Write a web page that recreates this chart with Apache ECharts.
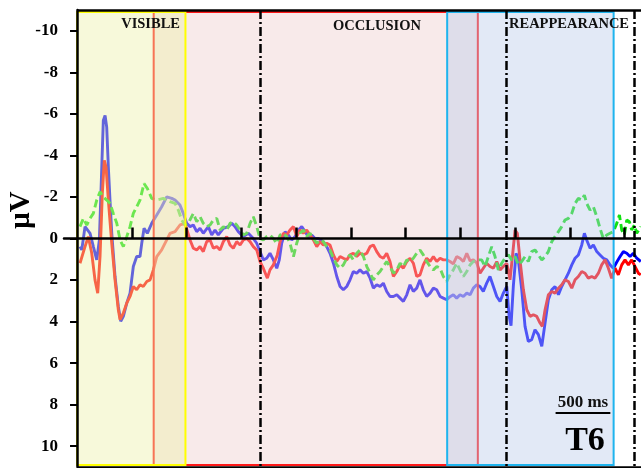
<!DOCTYPE html>
<html><head><meta charset="utf-8">
<script src="https://cdn.jsdelivr.net/npm/echarts@6/dist/echarts.min.js"></script>
<style>html,body{margin:0;padding:0;background:#fff}#c{width:641px;height:468px}</style>
</head><body><div id="c"></div><script>
// ---- data (time in ms, amplitude in µV; negative plotted up) ----
const yTickValues = [-10,-8,-6,-4,-2,0,2,4,6,8,10];
const xTickValues = [500,1000,1500,2000,2500,3000,3500,4000,4500,5000];
const visibleWin = [0, 990];
const occlusionWin = [700, 3660];
const reappearWin = [3380, 4900];
const dashedTimes = [1671, 3922, 5087];
const scaleBarMs = [4370, 4870];
const blue = [[27,0.39],[43,0.55],[73,-0.57],[119,-0.25],[149,0.39],[180,1.03],[204,0.07],[226,-3.44],[240,-5.68],[256,-5.92],[271,-5.36],[286,-3.44],[301,-1.85],[317,-0.26],[347,1.83],[377,3.27],[399,3.99],[423,3.75],[454,3.11],[484,2.63],[514,1.35],[545,0.87],[575,0.87],[591,0.23],[612,-0.49],[642,-0.25],[682,-0.73],[728,-1.13],[773,-1.53],[819,-2.0],[865,-1.93],[895,-1.85],[940,-1.61],[970,-1.21],[1001,-0.73],[1032,-0.57],[1062,-0.65],[1093,-0.33],[1123,-0.49],[1153,-0.25],[1199,-0.57],[1230,-0.17],[1260,-0.41],[1290,-0.17],[1336,-0.49],[1382,-0.57],[1413,-0.73],[1443,-0.57],[1473,-0.33],[1519,-0.09],[1564,-0.25],[1610,0],[1641,0.23],[1671,0.63],[1701,1.03],[1732,0.95],[1762,0.71],[1793,1.03],[1824,1.43],[1847,1.03],[1869,0.23],[1900,-0.33],[1930,-0.17],[1961,0.07],[1991,-0.09],[2021,-0.41],[2052,-0.57],[2082,-0.33],[2112,-0.09],[2143,-0.17],[2173,0],[2204,0],[2249,0.15],[2280,0.39],[2310,0.71],[2341,1.19],[2372,1.83],[2402,2.31],[2432,2.47],[2463,2.31],[2493,1.99],[2523,1.59],[2554,1.67],[2584,1.51],[2615,1.67],[2646,1.59],[2676,1.91],[2706,2.39],[2737,2.23],[2767,2.31],[2797,2.15],[2828,2.55],[2858,2.79],[2889,2.79],[2920,2.71],[2950,2.87],[2980,3.03],[3011,2.71],[3041,2.23],[3071,2.55],[3102,2.39],[3132,1.99],[3162,2.47],[3193,2.79],[3224,2.63],[3254,2.39],[3285,2.47],[3315,2.79],[3345,2.87],[3376,2.95],[3406,2.8],[3436,2.71],[3467,2.87],[3497,2.71],[3528,2.79],[3559,2.63],[3589,2.71],[3619,2.39],[3650,2.23],[3680,2.31],[3710,2.55],[3741,2.15],[3771,1.83],[3802,2.31],[3833,2.79],[3863,3.03],[3893,2.63],[3924,2.31],[3945,3.7],[3963,4.2],[3984,2.31],[4009,0.71],[4030,1.03],[4061,2.47],[4091,4.23],[4121,4.95],[4152,4.87],[4182,4.39],[4213,4.63],[4244,5.19],[4274,4.07],[4304,2.95],[4335,2.47],[4365,2.31],[4396,2.71],[4426,2.31],[4456,1.99],[4487,1.67],[4518,1.27],[4548,0.95],[4578,0.79],[4609,0.31],[4633,-0.25],[4654,0.07],[4685,0.47],[4715,0.31],[4746,0.63],[4776,0.79],[4806,0.95],[4837,1.03],[4867,1.27],[4898,1.43],[4929,1.13],[4959,0.87],[4989,0.63],[5020,0.71],[5050,0.87],[5080,0.71],[5111,0.95],[5148,1.11]];
const red = [[27,1.19],[73,0.39],[103,-0.09],[134,0.7],[164,1.99],[189,2.63],[210,0.87],[231,-2.17],[249,-3.76],[265,-3.44],[286,-1.85],[317,0.23],[347,1.99],[377,3.43],[393,3.91],[423,3.59],[454,3.11],[484,2.79],[514,2.31],[545,2.47],[575,2.23],[605,2.31],[637,2.07],[667,1.99],[697,1.51],[728,0.87],[773,0.55],[819,0.07],[849,-0.25],[895,-0.33],[940,-0.65],[986,-0.73],[1032,0.07],[1062,0.47],[1093,0.55],[1123,0.39],[1153,0.63],[1184,0.15],[1215,0.07],[1245,0.47],[1276,0.39],[1306,0.55],[1336,0.15],[1367,-0.09],[1397,0.31],[1427,0.47],[1458,0.15],[1489,0.31],[1519,0.07],[1550,0],[1580,0.15],[1610,0.39],[1641,0.55],[1671,1.11],[1701,1.43],[1738,1.91],[1762,1.51],[1793,1.27],[1829,0.79],[1854,0.15],[1884,-0.25],[1915,-0.17],[1945,-0.41],[1976,-0.57],[2006,-0.09],[2036,-0.41],[2067,-0.25],[2097,-0.41],[2128,-0.17],[2158,0.07],[2189,0.39],[2219,0.15],[2249,0.31],[2280,0.23],[2310,0.31],[2341,0.79],[2372,1.11],[2402,0.87],[2432,0.95],[2463,1.03],[2493,0.79],[2523,0.71],[2554,0.87],[2584,0.71],[2615,0.79],[2646,0.71],[2676,0.39],[2706,0.31],[2737,0.63],[2767,0.87],[2797,0.95],[2828,0.71],[2858,1.11],[2889,1.83],[2920,1.59],[2950,1.27],[2980,1.43],[3011,1.11],[3041,0.95],[3071,1.19],[3102,1.83],[3132,1.75],[3162,1.27],[3193,0.95],[3224,1.11],[3254,0.87],[3285,1.11],[3315,0.95],[3345,1.03],[3376,1.03],[3406,1.11],[3436,1.22],[3467,0.87],[3497,0.95],[3528,1.11],[3559,0.71],[3589,1.08],[3619,1.03],[3650,1.17],[3680,1.67],[3710,1.43],[3741,1.19],[3771,1.35],[3802,1.43],[3833,1.11],[3863,1.51],[3893,1.35],[3924,1.19],[3954,1.99],[3979,0.71],[4000,-0.41],[4021,-0.25],[4045,1.03],[4076,2.47],[4107,3.43],[4137,3.75],[4167,3.67],[4198,3.75],[4228,4.07],[4249,4.23],[4274,3.43],[4304,2.71],[4335,2.55],[4365,2.63],[4396,2.39],[4426,2.23],[4456,1.99],[4487,2.07],[4518,2.39],[4548,1.99],[4578,1.83],[4609,1.59],[4639,1.67],[4669,1.91],[4700,1.83],[4730,1.91],[4761,1.67],[4791,1.27],[4822,1.03],[4852,1.43],[4882,1.91],[4913,1.43],[4943,1.75],[4974,1.27],[5004,1.03],[5035,1.27],[5065,1.03],[5096,1.35],[5126,1.67],[5148,1.75]];
const green = [[27,-0.57],[58,-0.97],[89,-0.65],[119,-0.97],[149,-1.21],[180,-1.85],[210,-2.25],[240,-2.0],[271,-1.85],[301,-1.69],[331,-1.21],[363,-0.73],[393,0.07],[423,0.39],[454,-0.09],[484,-0.57],[514,-1.21],[545,-1.53],[575,-1.85],[612,-2.65],[642,-2.41],[682,-1.93],[728,-1.85],[788,-1.93],[849,-1.77],[895,-1.69],[925,-1.37],[956,-0.89],[986,-0.65],[1016,-0.73],[1062,-1.21],[1093,-0.81],[1123,-1.05],[1153,-0.73],[1184,-0.57],[1215,-0.65],[1245,-0.89],[1276,-0.97],[1306,-0.41],[1336,-0.57],[1367,-0.41],[1397,-0.73],[1427,-0.81],[1458,-0.65],[1489,-0.41],[1519,-0.17],[1550,-0.25],[1580,-0.73],[1610,-1.05],[1641,-0.57],[1671,0],[1701,0.07],[1732,-0.09],[1762,-0.17],[1793,0],[1824,0.23],[1854,-0.17],[1884,-0.25],[1915,-0.09],[1945,0.23],[1976,0.87],[2006,0.23],[2036,-0.25],[2067,-0.41],[2097,-0.09],[2128,-0.25],[2158,0],[2189,0.23],[2219,0.07],[2249,0.15],[2280,0.39],[2310,0.55],[2341,0.95],[2372,1.27],[2402,1.43],[2432,1.27],[2463,0.95],[2493,0.79],[2523,1.03],[2554,0.71],[2584,0.55],[2615,0.87],[2646,1.35],[2676,1.67],[2706,1.99],[2737,1.75],[2767,1.59],[2797,1.35],[2828,1.11],[2858,1.35],[2889,1.67],[2920,1.51],[2950,1.19],[2980,1.35],[3011,1.03],[3041,1.11],[3071,0.95],[3102,0.71],[3132,0.55],[3162,0.79],[3193,1.11],[3224,1.35],[3254,1.51],[3285,1.35],[3315,1.43],[3345,1.83],[3376,2.07],[3406,1.75],[3436,1.51],[3467,1.19],[3497,1.51],[3528,1.83],[3559,1.59],[3589,1.27],[3619,1.11],[3650,1.03],[3665,1.11],[3695,1.03],[3726,1.35],[3756,0.87],[3787,0.39],[3817,0.87],[3847,1.51],[3878,1.19],[3908,0.95],[3939,0.79],[3969,1.03],[4000,0.87],[4030,1.27],[4061,1.11],[4091,0.87],[4121,1.11],[4152,0.63],[4182,0.55],[4213,0.79],[4244,1.03],[4274,0.87],[4304,0.63],[4335,0.15],[4365,-0.09],[4396,-0.33],[4426,-0.57],[4456,-0.89],[4487,-0.97],[4518,-1.21],[4548,-1.69],[4578,-1.93],[4609,-1.85],[4633,-2.09],[4654,-1.69],[4685,-1.37],[4715,-1.53],[4746,-1.05],[4776,-0.49],[4806,0],[4837,-0.17],[4867,-0.25],[4898,-0.33],[4929,-0.73],[4953,-1.13],[4974,-0.41],[4998,-0.17],[5020,-0.89],[5044,-0.81],[5065,-0.41],[5090,-0.65],[5111,-0.25],[5148,-0.57]];

// ---- chart ----
const SERIF = '"Liberation Serif","Times New Roman",serif';
const Y_TOP = -10.9, Y_BOT = 10.9;
const chart = echarts.init(document.getElementById('c'), null, {renderer: 'canvas'});
function box(win, fill, border) {
  return [{xAxis: win[0], yAxis: Y_TOP, itemStyle: {color: fill, borderColor: border, borderWidth: 2}}, {xAxis: win[1], yAxis: Y_BOT}];
}
const option = {
  animation: false,
  backgroundColor: '#fff',
  grid: {left: 64, right: 0, top: 10, bottom: 1, containLabel: false},
  xAxis: {
    type: 'value', min: -119, max: 5150, z: 10,
    axisLine: {show: true, onZero: true, lineStyle: {color: '#000', width: 2.5}},
    axisTick: {show: true, inside: true, length: 11, customValues: xTickValues, lineStyle: {color: '#000', width: 2.5}},
    axisLabel: {show: false},
    splitLine: {show: false}
  },
  yAxis: {
    type: 'value', inverse: true, min: -11, max: 11, z: 10,
    axisLine: {show: true, onZero: true, lineStyle: {color: '#000', width: 2.5}},
    axisTick: {show: true, inside: false, length: 7, customValues: yTickValues, lineStyle: {color: '#000', width: 2}},
    axisLabel: {show: true, customValues: yTickValues, margin: 6, color: '#000', fontFamily: SERIF, fontWeight: 'bold', fontSize: 17},
    splitLine: {show: false}
  },
  series: [
    {type: 'line', data: blue, symbol: 'none', z: 2, lineStyle: {color: '#0000ff', width: 2.9}},
    {type: 'line', data: red, symbol: 'none', z: 2, lineStyle: {color: '#ff0000', width: 2.9}},
    {type: 'line', data: green, symbol: 'none', z: 2, lineStyle: {color: '#10e010', width: 2.9, type: [8, 4]}},
    {type: 'line', data: [], z: 3, silent: true,
      markArea: {silent: true, z: 5, data: [box(occlusionWin, 'rgba(238,205,205,0.42)', '#ff1a1a')]}},
    {type: 'line', data: [], z: 4, silent: true,
      markArea: {silent: true, z: 6, data: [box(visibleWin, 'rgba(235,240,168,0.42)', '#ffff00'), box(reappearWin, 'rgba(185,203,233,0.42)', '#1fb4ee')]}},
    {type: 'line', data: [], z: 7, silent: true,
      markLine: {silent: true, z: 8, symbol: 'none', label: {show: false},
        data: dashedTimes.map(t => ({xAxis: t, lineStyle: {color: '#000', width: 2.5, type: [9, 3, 2, 3]}})).concat([
          [{coord: [0, -11], lineStyle: {color: '#000', width: 2.5, type: 'solid'}}, {coord: [5150, -11]}],
          [{coord: [0, 11], lineStyle: {color: '#000', width: 2.5, type: 'solid'}}, {coord: [5150, 11]}],
          [{coord: [scaleBarMs[0], 8.4], lineStyle: {color: '#000', width: 2, type: 'solid'}}, {coord: [scaleBarMs[1], 8.4]}]
        ])}}
  ]
};
chart.setOption(option);
const txt = (x, y, s, size, extra) => Object.assign({type: 'text', x: x, y: y, z: 20,
  style: {text: s, font: 'bold ' + size + 'px ' + SERIF, fill: '#111', align: 'center', verticalAlign: 'middle'}}, extra || {});
const sb0 = chart.convertToPixel({gridIndex: 0}, [scaleBarMs[0], 8.4]);
const sb1 = chart.convertToPixel({gridIndex: 0}, [scaleBarMs[1], 8.4]);
chart.setOption({graphic: [
  txt(180, 24, 'VISIBLE', 14.5, {style: {text: 'VISIBLE', font: 'bold 14.5px ' + SERIF, fill: '#111', align: 'right', verticalAlign: 'middle'}}),
  txt(377, 26, 'OCCLUSION', 14.5),
  txt(509, 24, 'REAPPEARANCE', 14.5, {style: {text: 'REAPPEARANCE', font: 'bold 14.5px ' + SERIF, fill: '#111', align: 'left', verticalAlign: 'middle'}}),
  txt((sb0[0] + sb1[0]) / 2, sb0[1] - 10, '500 ms', 17),
  txt(585, 441, 'T6', 34, {style: {text: 'T6', font: 'bold 34px ' + SERIF, fill: '#000', align: 'center', verticalAlign: 'middle'}}),
  txt(22, 210, 'μV', 29, {rotation: Math.PI / 2, style: {text: 'μV', font: 'bold 29px ' + SERIF, fill: '#000', align: 'center', verticalAlign: 'middle'}})
]});
</script></body></html>
